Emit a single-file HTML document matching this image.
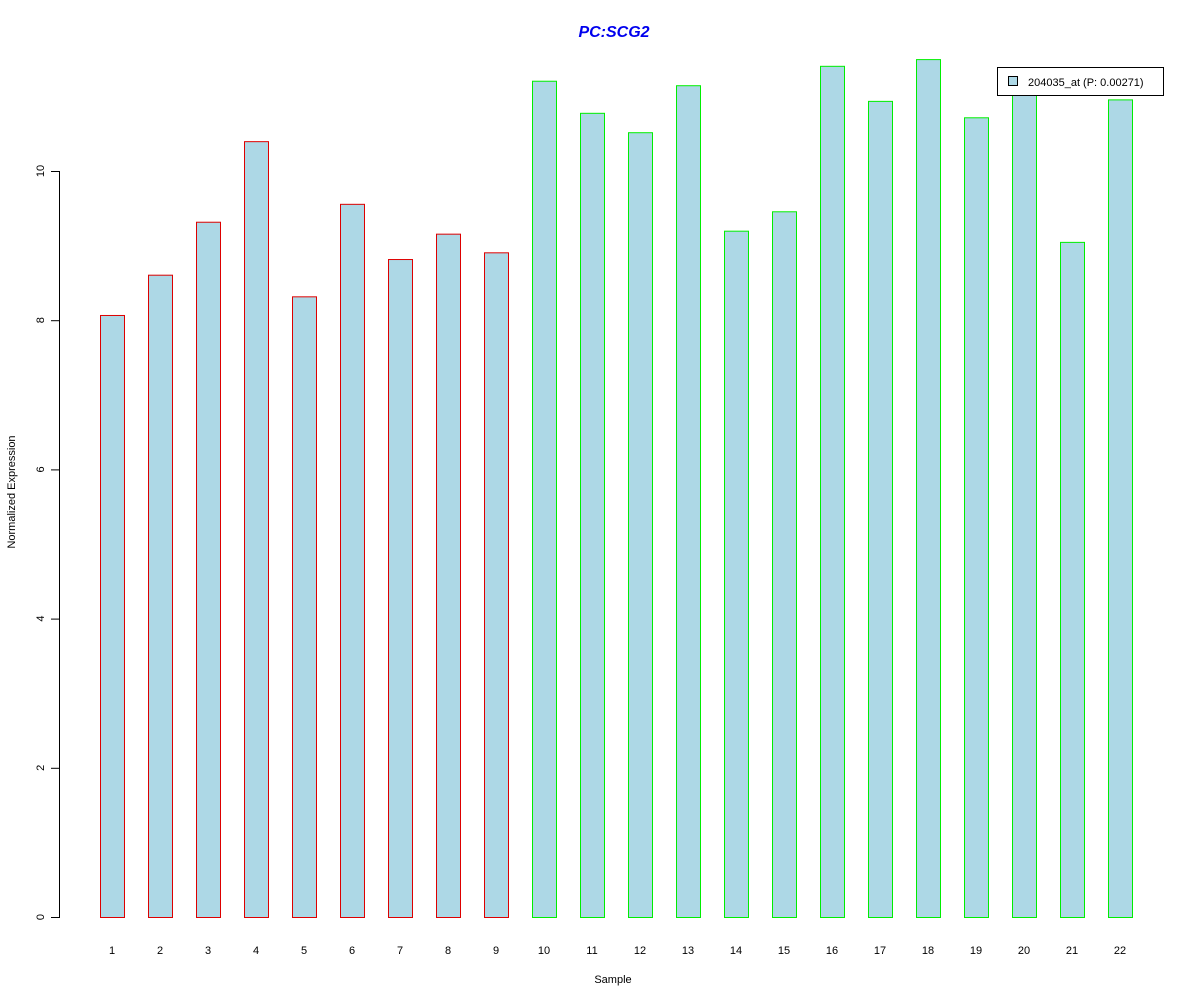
<!DOCTYPE html>
<html><head><meta charset="utf-8"><style>
html,body{margin:0;padding:0;background:#fff;}
svg{display:block;font-family:"Liberation Sans",Arial,sans-serif;}
</style></head><body>
<svg id="chart" width="1200" height="1000" viewBox="0 0 1200 1000">
<text x="614" y="37" text-anchor="middle" font-size="16" font-weight="bold" font-style="italic" fill="#0000ee">PC:SCG2</text>
<g id="yaxis"></g>
<g id="bars"></g>
<g id="xlabels"></g>
<text x="613" y="983" text-anchor="middle" font-size="11">Sample</text>
<text transform="translate(15,492) rotate(-90)" text-anchor="middle" font-size="11">Normalized Expression</text>
<g>
<rect x="997.5" y="67.5" width="166" height="28" fill="#fff" stroke="#000" stroke-width="1"/>
<rect x="1008.5" y="76.5" width="9" height="9" fill="#add8e6" stroke="#000" stroke-width="1"/>
<text x="1028" y="86" font-size="11">204035_at (P: 0.00271)</text>
</g>
</svg>
<script>
const categories = ["1","2","3","4","5","6","7","8","9","10","11","12","13","14","15","16","17","18","19","20","21","22"];
const values = [8.07,8.61,9.32,10.40,8.32,9.56,8.82,9.16,8.91,11.21,10.78,10.52,11.15,9.20,9.46,11.41,10.94,11.50,10.72,11.2,9.05,10.96];
const groups = ["a","a","a","a","a","a","a","a","a","b","b","b","b","b","b","b","b","b","b","b","b","b"];
const yTicks = [0,2,4,6,8,10];
const NS = "http://www.w3.org/2000/svg";
const y = v => 917 - v * 74.6;
const x = i => 112 + i * 48;
const bw = 24;
function mk(tag, attrs, parent){const e=document.createElementNS(NS,tag);for(const k in attrs)e.setAttribute(k,attrs[k]);parent.appendChild(e);return e;}
const ya = document.getElementById('yaxis');
const axl = mk('line',{x1:59.5,x2:59.5,y1:y(0),y2:y(10),stroke:'#000'},ya);


yTicks.forEach(t=>{
  const l = mk('line',{x1:51,x2:60,y1:y(t)+0.5,y2:y(t)+0.5,stroke:'#000'},ya);
  
  
  const tx = mk('text',{transform:`translate(44,${y(t)}) rotate(-90)`,'text-anchor':'middle','font-size':11},ya);
  tx.textContent = t;
  
  
});
const bg = document.getElementById('bars');
const xl = document.getElementById('xlabels');
values.forEach((v,i)=>{
  const r = mk('rect',{x:x(i)-bw/2+0.5,y:y(v)+0.5,width:bw,height:y(0)-y(v),fill:'#add8e6',stroke:groups[i]==='a'?'#dd0000':'#00ee00','stroke-width':1},bg);
  
  
  const t = mk('text',{x:x(i),y:954,'text-anchor':'middle','font-size':11},xl);
  t.textContent = categories[i];
  
  
});
</script>
</body></html>
